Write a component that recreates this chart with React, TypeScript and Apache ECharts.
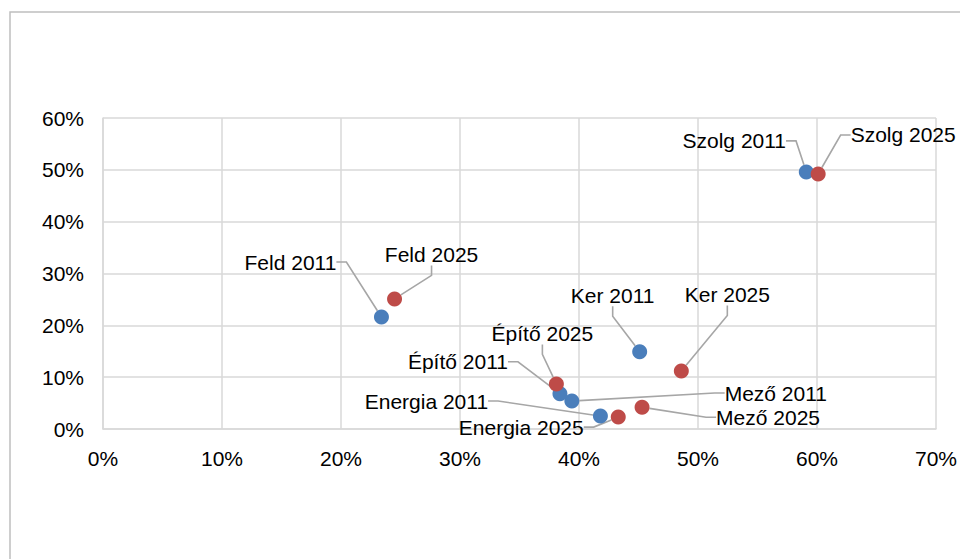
import React, { useEffect, useRef } from "react";
import * as echarts from "echarts";

// Sectors and their values (percent)
const sectors = ["Mező", "Feld", "Energia", "Építő", "Ker", "Szolg"];
const x2011 = [39.4, 23.4, 41.8, 38.4, 45.1, 59.1];
const y2011 = [5.4, 21.6, 2.5, 6.8, 14.9, 49.6];
const x2025 = [45.3, 24.5, 43.3, 38.1, 48.6, 60.1];
const y2025 = [4.2, 25.1, 2.3, 8.7, 11.2, 49.2];
const years = ["2011", "2025"];

// Label offsets (layout only): label centre relative to point, px
const off2011: [number, number][] = [
  [204, -8],
  [-91, -55],
  [-174, -15],
  [-102, -32],
  [-27, -56],
  [-72, -31],
];
const off2025: [number, number][] = [
  [126, 10],
  [37, -44],
  [-97, 10],
  [-14, -50],
  [46, -76],
  [85, -39],
];

const FONT = "'Liberation Sans', Arial, sans-serif";

export default function App() {
  const ref = useRef<HTMLDivElement>(null);
  useEffect(() => {
    if (!ref.current) return;
    const chart = echarts.init(ref.current, undefined, { renderer: "svg" });
    const mkSeries = (
      xs: number[],
      ys: number[],
      year: string,
      color: string,
      offs: [number, number][]
    ) => ({
      type: "scatter",
      name: year,
      symbolSize: 15,
      itemStyle: { color, opacity: 1 },
      data: xs.map((x, i) => ({ value: [x, ys[i]], name: sectors[i] })),
      label: {
        show: true,
        position: "inside",
        align: "center",
        verticalAlign: "middle",
        formatter: (p: any) => `${p.name} ${year}`,
        color: "#000",
        fontFamily: FONT,
        fontSize: 21,
        padding: [2, 7],
      },
      labelLine: {
        show: true,
        length2: 10,
        lineStyle: { color: "#a6a6a6", width: 1.6 },
      },
      labelLayout: (params: any) => ({
        dx: offs[params.dataIndex][0],
        dy: offs[params.dataIndex][1],
      }),
    });
    chart.setOption({
      animation: false,
      backgroundColor: "#fff",
      textStyle: { fontFamily: FONT },
      graphic: [
        {
          type: "rect",
          shape: { x: 10, y: 12, width: 1000, height: 600 },
          style: { fill: "none", stroke: "#bfbfbf", lineWidth: 1.5 },
          silent: true,
          z: -10,
        },
      ],
      grid: { left: 103, right: 23, top: 118, bottom: 130 },
      xAxis: {
        type: "value",
        min: 0,
        max: 70,
        interval: 10,
        axisLine: { show: true, lineStyle: { color: "#d9d9d9", width: 1.5 } },
        axisTick: { show: false },
        splitLine: { show: true, lineStyle: { color: "#d9d9d9", width: 1.5 } },
        axisLabel: {
          formatter: "{value}%",
          color: "#000",
          fontSize: 21,
          fontFamily: FONT,
          margin: 19,
        },
      },
      yAxis: {
        type: "value",
        min: 0,
        max: 60,
        interval: 10,
        axisLine: { show: true, lineStyle: { color: "#d9d9d9", width: 1.5 } },
        axisTick: { show: false },
        splitLine: { show: true, lineStyle: { color: "#d9d9d9", width: 1.5 } },
        axisLabel: {
          formatter: "{value}%",
          color: "#000",
          fontSize: 21,
          fontFamily: FONT,
          margin: 19,
        },
      },
      series: [
        mkSeries(x2011, y2011, years[0], "#4a7ebb", off2011),
        mkSeries(x2025, y2025, years[1], "#be4b48", off2025),
      ],
    });
    return () => chart.dispose();
  }, []);
  return (
    <div
      ref={ref}
      style={{ position: "fixed", left: 0, top: 0, width: 960, height: 559 }}
    />
  );
}
